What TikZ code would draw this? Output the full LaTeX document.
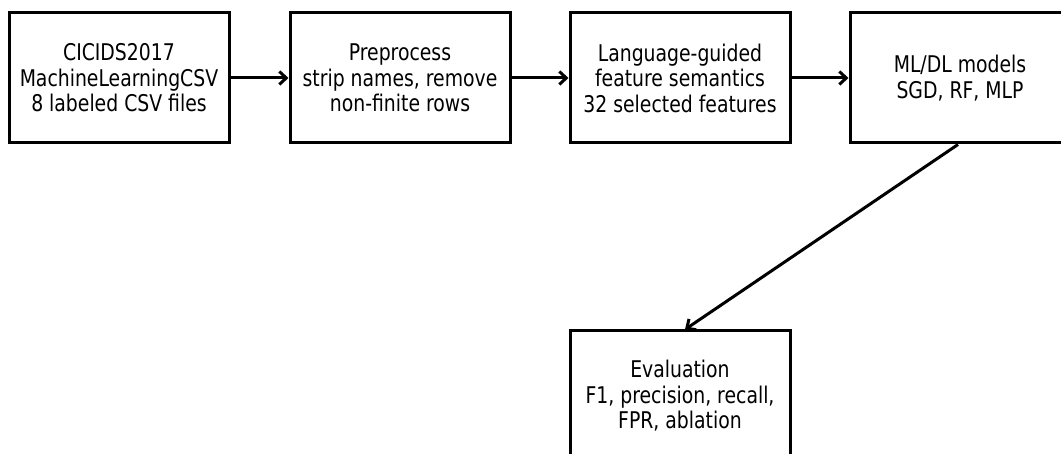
\documentclass[tikz,border=0pt]{standalone}
\usepackage{fontspec}
\setmainfont[FakeStretch=0.91]{DejaVu Sans Condensed}
\usetikzlibrary{arrows.meta}
\begin{document}
\begin{tikzpicture}[x=1pt,y=1pt,
  stage/.style={draw=black, line width=3pt, minimum width=220pt, minimum height=130pt,
    inner sep=0pt, align=center, font=\fontsize{23}{25.5}\selectfont},
  flow/.style={line width=3pt, -{Straight Barb[length=7pt,width=13pt,line width=3pt]}}]
\useasboundingbox (0,0) rectangle (1061,-454);
\node[stage] (b1) at (119,-78) {CICIDS2017\\MachineLearningCSV\\8 labeled CSV files};
\node[stage] (b2) at (400,-78) {Preprocess\\strip names, remove\\non-finite rows};
\node[stage] (b3) at (680,-78) {Language-guided\\feature semantics\\32 selected features};
\node[stage] (b4) at (960,-78) {ML/DL models\\SGD, RF, MLP};
\node[stage] (b5) at (680,-396) {Evaluation\\F1, precision, recall,\\FPR, ablation};
\draw[flow] (b1) -- (b2);
\draw[flow] (b2) -- (b3);
\draw[flow] (b3) -- (b4);
\draw[flow] ([xshift=-2pt]b4.south) -- ([xshift=5pt]b5.north);
\end{tikzpicture}
\end{document}
